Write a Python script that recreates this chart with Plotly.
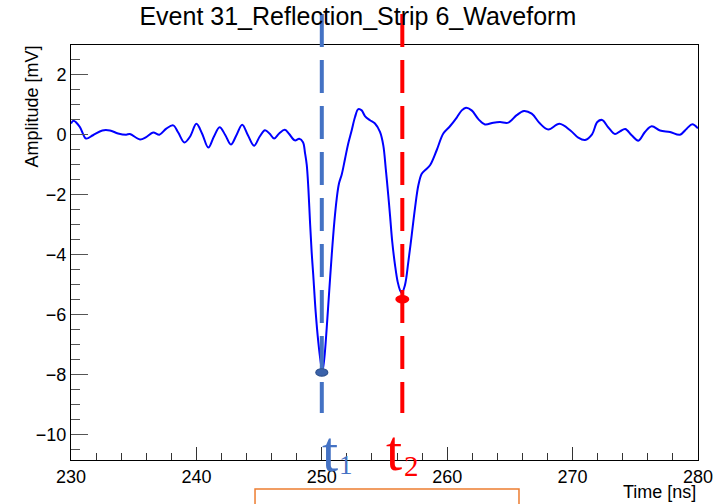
import plotly.graph_objects as go

# ---- data -------------------------------------------------------------
time_ns = [230.0, 230.2, 230.7, 231.2, 231.75, 232.5, 233.1, 233.75, 234.4, 234.7,
           235.5, 236.0, 236.55, 237.05, 237.6, 238.15, 238.55, 239.05, 239.5, 240.0,
           240.45, 240.95, 241.4, 241.85, 242.3, 242.75, 243.2, 243.65, 244.1, 244.6,
           245.05, 245.47, 245.85, 246.2, 246.6, 247.05, 247.4, 247.85, 248.2, 248.5,
           248.66, 248.8, 248.93, 249.06, 249.19, 249.32, 249.51, 249.72, 249.92, 250.04,
           250.2, 250.39, 250.57, 250.79, 251.0, 251.19, 251.37, 251.6, 251.85, 252.1,
           252.38, 252.65, 252.91, 253.18, 253.44, 253.84, 254.24, 254.64, 254.9, 255.1,
           255.3, 255.44, 255.62, 255.84, 256.05, 256.24, 256.37, 256.63, 256.9, 257.17,
           257.43, 257.7, 257.97, 258.3, 258.63, 259.16, 259.69, 260.22, 260.76, 261.16,
           261.5, 261.95, 262.5, 263.01, 263.68, 264.21, 264.87, 265.54, 266.12, 266.74,
           267.4, 268.06, 268.95, 269.85, 270.45, 270.99, 271.55, 271.97, 272.35, 272.85,
           273.38, 273.78, 274.2, 274.71, 275.24, 275.77, 276.31, 276.97, 277.77, 278.56,
           279.1, 279.55, 280.0]
amplitude_mV = [0.38, 0.47, 0.27, -0.12, -0.01, 0.15, 0.15, 0.05, 0.01, 0.03,
                -0.15, -0.07, 0.08, 0.01, 0.21, 0.32, 0.08, -0.25, -0.05, 0.37,
                0.05, -0.42, -0.05, 0.26, 0.0, -0.32, 0.0, 0.34, 0.0, -0.36,
                -0.05, 0.16, 0.04, -0.12, 0.05, 0.17, 0.03, -0.18, -0.13, -0.24,
                -0.6, -1.0, -1.79, -2.9, -3.9, -4.68, -5.9, -6.9, -7.6, -7.9,
                -7.45, -6.45, -5.34, -4.01, -2.9, -2.12, -1.62, -1.3, -0.8, -0.3,
                0.15, 0.6, 0.86, 0.82, 0.63, 0.49, 0.38, 0.1, -0.34, -1.12,
                -2.01, -2.68, -3.57, -4.34, -4.9, -5.18, -5.27, -5.01, -4.23, -3.34,
                -2.45, -1.68, -1.29, -1.15, -1.01, -0.51, 0.05, 0.29, 0.58, 0.82,
                0.91, 0.82, 0.52, 0.35, 0.41, 0.43, 0.41, 0.66, 0.8, 0.71,
                0.38, 0.18, 0.37, 0.14, -0.09, -0.17, 0.02, 0.43, 0.5, 0.25,
                0.03, 0.12, 0.2, -0.01, -0.19, 0.1, 0.29, 0.15, 0.1, 0.01,
                0.21, 0.36, 0.22]

t1_time, t1_amp = 250.0, -7.92
t2_time, t2_amp = 256.42, -5.48

x_range = [230, 280]
y_range = [-10.84, 3.0]
x_tick_vals = [230, 240, 250, 260, 270, 280]
y_tick_vals = [-10, -8, -6, -4, -2, 0, 2]

title_text = "Event 31_Reflection_Strip 6_Waveform"
x_title = "Time [ns]"
y_title = "Amplitude [mV]"

# ---- styles -----------------------------------------------------------
SANS = "Liberation Sans, Arial, Helvetica, sans-serif"
SERIF = "Liberation Serif, Times New Roman, serif"
BLUE_MARK = "#4472C4"
RED_MARK = "#FF0000"
ORANGE = "#ED7D31"

fig = go.Figure()
fig.add_trace(go.Scatter(
    x=time_ns, y=amplitude_mV, mode="lines",
    line=dict(color="#0000FF", width=2, shape="spline", smoothing=1.0),
    hoverinfo="skip", showlegend=False))

shapes = []
for tx, col in [(t1_time, BLUE_MARK), (t2_time, RED_MARK)]:
    shapes.append(dict(type="line", xref="x", yref="paper", x0=tx, x1=tx,
                       y0=1.0747, y1=0.1133,
                       line=dict(color=col, width=4, dash="33px,13px")))
shapes.append(dict(type="circle", xref="x", yref="y",
                   xsizemode="pixel", ysizemode="pixel",
                   xanchor=t1_time, yanchor=t1_amp, x0=-6, x1=6, y0=-3.7, y1=3.7,
                   fillcolor="#3A62AA", line=dict(color="#2F528F", width=1.2)))
shapes.append(dict(type="circle", xref="x", yref="y",
                   xsizemode="pixel", ysizemode="pixel",
                   xanchor=t2_time, yanchor=t2_amp, x0=-7, x1=7, y0=-4.2, y1=4.2,
                   fillcolor=RED_MARK, line=dict(color=RED_MARK, width=0)))
shapes.append(dict(type="rect", xref="paper", yref="paper",
                   x0=0.2935, x1=0.7145, y0=-0.2, y1=-0.0699,
                   line=dict(color=ORANGE, width=1.5), fillcolor="rgba(0,0,0,0)"))

annotations = [
    dict(text=y_title, xref="paper", yref="paper", x=-0.0622, y=0.852,
         xanchor="center", yanchor="middle", textangle=-90, showarrow=False,
         font=dict(family=SANS, size=18, color="black")),
    dict(text=x_title, xref="paper", yref="paper", x=1.0, y=-0.077,
         xanchor="right", yanchor="middle", showarrow=False,
         font=dict(family=SANS, size=18, color="black")),
    dict(text="t", xref="x", yref="paper", x=t1_time, xshift=-2, y=0.02,
         xanchor="left", yanchor="middle", showarrow=False,
         font=dict(family=SERIF, size=58, color=BLUE_MARK)),
    dict(text="1", xref="x", yref="paper", x=t1_time, xshift=15, y=-0.012,
         xanchor="left", yanchor="middle", showarrow=False,
         font=dict(family=SERIF, size=27, color=BLUE_MARK)),
    dict(text="t", xref="x", yref="paper", x=t2_time, xshift=-18, y=0.024,
         xanchor="left", yanchor="middle", showarrow=False,
         font=dict(family=SERIF, size=58, color=RED_MARK)),
    dict(text="2", xref="x", yref="paper", x=t2_time, xshift=0, y=-0.014,
         xanchor="left", yanchor="middle", showarrow=False,
         font=dict(family=SERIF, size=29, color=RED_MARK)),
]

fig.update_layout(
    template="none",
    width=720, height=504,
    margin=dict(l=71, r=22, t=45, b=44, pad=0),
    paper_bgcolor="white", plot_bgcolor="white",
    title=dict(text=title_text, x=0.497, xanchor="center", y=0.968, yanchor="middle",
               xref="container", yref="container",
               font=dict(family=SANS, size=25, color="black")),
    shapes=shapes, annotations=annotations,
    showlegend=False,
)
fig.update_xaxes(range=x_range, tickvals=x_tick_vals, showgrid=False, zeroline=False,
                 automargin=False,
                 showline=True, linecolor="black", linewidth=1, mirror=True,
                 ticks="inside", ticklen=13, tickcolor="#333", tickwidth=1,
                 minor=dict(dtick=2, ticks="inside", ticklen=7, tickcolor="#333", showgrid=False),
                 tickfont=dict(family=SANS, size=18, color="black"))
fig.update_yaxes(range=y_range, tickvals=y_tick_vals, showgrid=False, zeroline=False,
                 automargin=False,
                 showline=True, linecolor="black", linewidth=1, mirror=True,
                 ticks="inside", ticklen=17, tickcolor="#555", tickwidth=1,
                 minor=dict(dtick=0.5, ticks="inside", ticklen=9, tickcolor="#555", showgrid=False),
                 tickfont=dict(family=SANS, size=18, color="black"))

fig.write_html("out.html", config={"displayModeBar": False},
               post_script="document.body.style.margin='0';document.body.style.overflow='hidden';")
